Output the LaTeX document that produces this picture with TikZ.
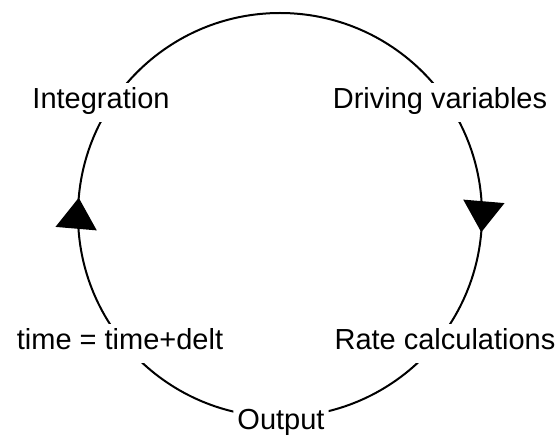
\documentclass[tikz,border=0pt]{standalone}
\usepackage{fontspec}
\setmainfont{Liberation Sans}
\usetikzlibrary{arrows.meta,decorations.markings,positioning,calc}

\begin{document}
\begin{tikzpicture}[
    x=1pt, y=1pt,
    stage/.style={anchor=base, inner sep=4pt, text height=22pt, text depth=9pt, font=\fontsize{29}{34}\selectfont},
    cycle line/.style={line width=2pt, postaction={decorate}, decoration={markings,
        mark=at position 0.2636 with {\arrow{Triangle[length=31pt,width=41pt]}},
        mark=at position 0.7636 with {\arrow{Triangle[length=31pt,width=41pt]}}}}
]
\fill[white] (0,0) rectangle (560,433);
\coordinate (c) at (280,218);
\node[stage] (integ) at (101,324) {Integration};
\node[stage] (drive) at (440,324) {Driving variables};
\node[stage] (rate) at (445,83) {Rate calculations};
\node[stage] (output) at (281,4) {Output};
\node[stage] (time) at (120,83) {time = time+delt};
% loop, cut open at the stages
\begin{scope}[even odd rule]
  \clip (0,0) rectangle (560,433)
    (integ.south west) rectangle (integ.north east)
    (drive.south west) rectangle (drive.north east)
    (rate.south west) rectangle (rate.north east)
    (output.south west) rectangle (output.north east)
    (time.south west) rectangle (time.north east);
  \draw[cycle line] (c) ++(0,202) arc[start angle=90, end angle=-270, radius=202];
\end{scope}
\end{tikzpicture}
\end{document}
